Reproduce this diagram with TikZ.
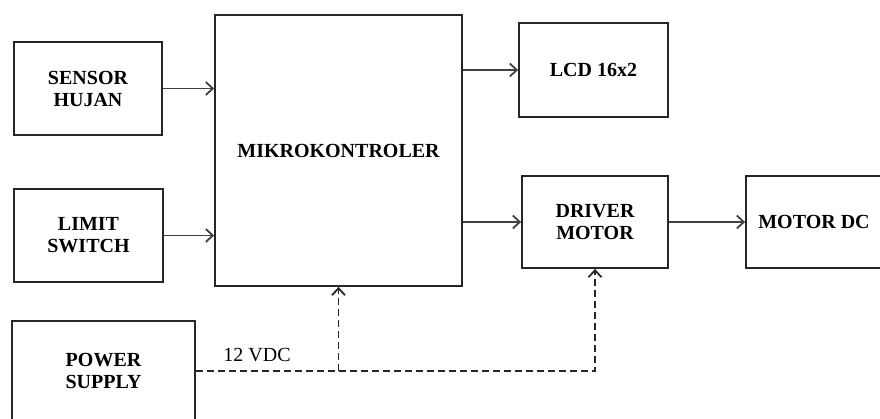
\documentclass[tikz,border=0pt]{standalone}
\usepackage{fontspec}
\setmainfont{Liberation Serif}
\usetikzlibrary{arrows.meta}

\begin{document}
\begin{tikzpicture}[x=1pt,y=-1pt,>={Straight Barb[length=7pt,width=13pt]},
    blok/.style={draw=black!85,line width=1.8pt,align=center,inner sep=2pt,
      font=\fontsize{20}{22}\selectfont\bfseries},
    aliran/.style={->,draw=black!75,line width=1.8pt},
    daya/.style={->,draw=black!85,line width=1.8pt,dash pattern=on 7pt off 4pt}]
    \useasboundingbox (0,0) rectangle (880,418);

    \node[blok,minimum width=148pt,minimum height=93pt] (sensor) at (88,88.5) {SENSOR\\HUJAN};
    \node[blok,minimum width=149pt,minimum height=93pt] (limit) at (88.5,235.5) {LIMIT\\SWITCH};
    \node[blok,minimum width=247pt,minimum height=271pt] (mikro) at (338.5,150.5) {MIKROKONTROLER};
    \node[blok,minimum width=149pt,minimum height=94pt] (lcd) at (593.5,70) {LCD 16x2};
    \node[blok,minimum width=146pt,minimum height=92pt] (driver) at (595,222) {DRIVER\\MOTOR};
    \node[blok,minimum width=136pt,minimum height=92pt] (motor) at (814,222) {MOTOR DC};
    \node[blok,minimum width=183pt,minimum height=100pt] (power) at (103.5,371) {POWER\\SUPPLY};

    \draw[aliran] (sensor) -- (sensor -| mikro.west);
    \draw[aliran] (limit) -- (limit -| mikro.west);
    \draw[aliran] (lcd -| mikro.east) -- (lcd);
    \draw[aliran] (driver -| mikro.east) -- (driver);
    \draw[aliran] (driver) -- (motor);

    % jalur catu daya 12 V
    \coordinate (cabang) at (power.east -| mikro.south);
    \draw[daya] (power.east) -- (power.east -| driver.south) -- (driver.south);
    \draw[daya] (cabang) -- (mikro.south);
    \node[font=\fontsize{20}{22}\selectfont] (vdc) at (257,355) {12 VDC};
\end{tikzpicture}
\end{document}
